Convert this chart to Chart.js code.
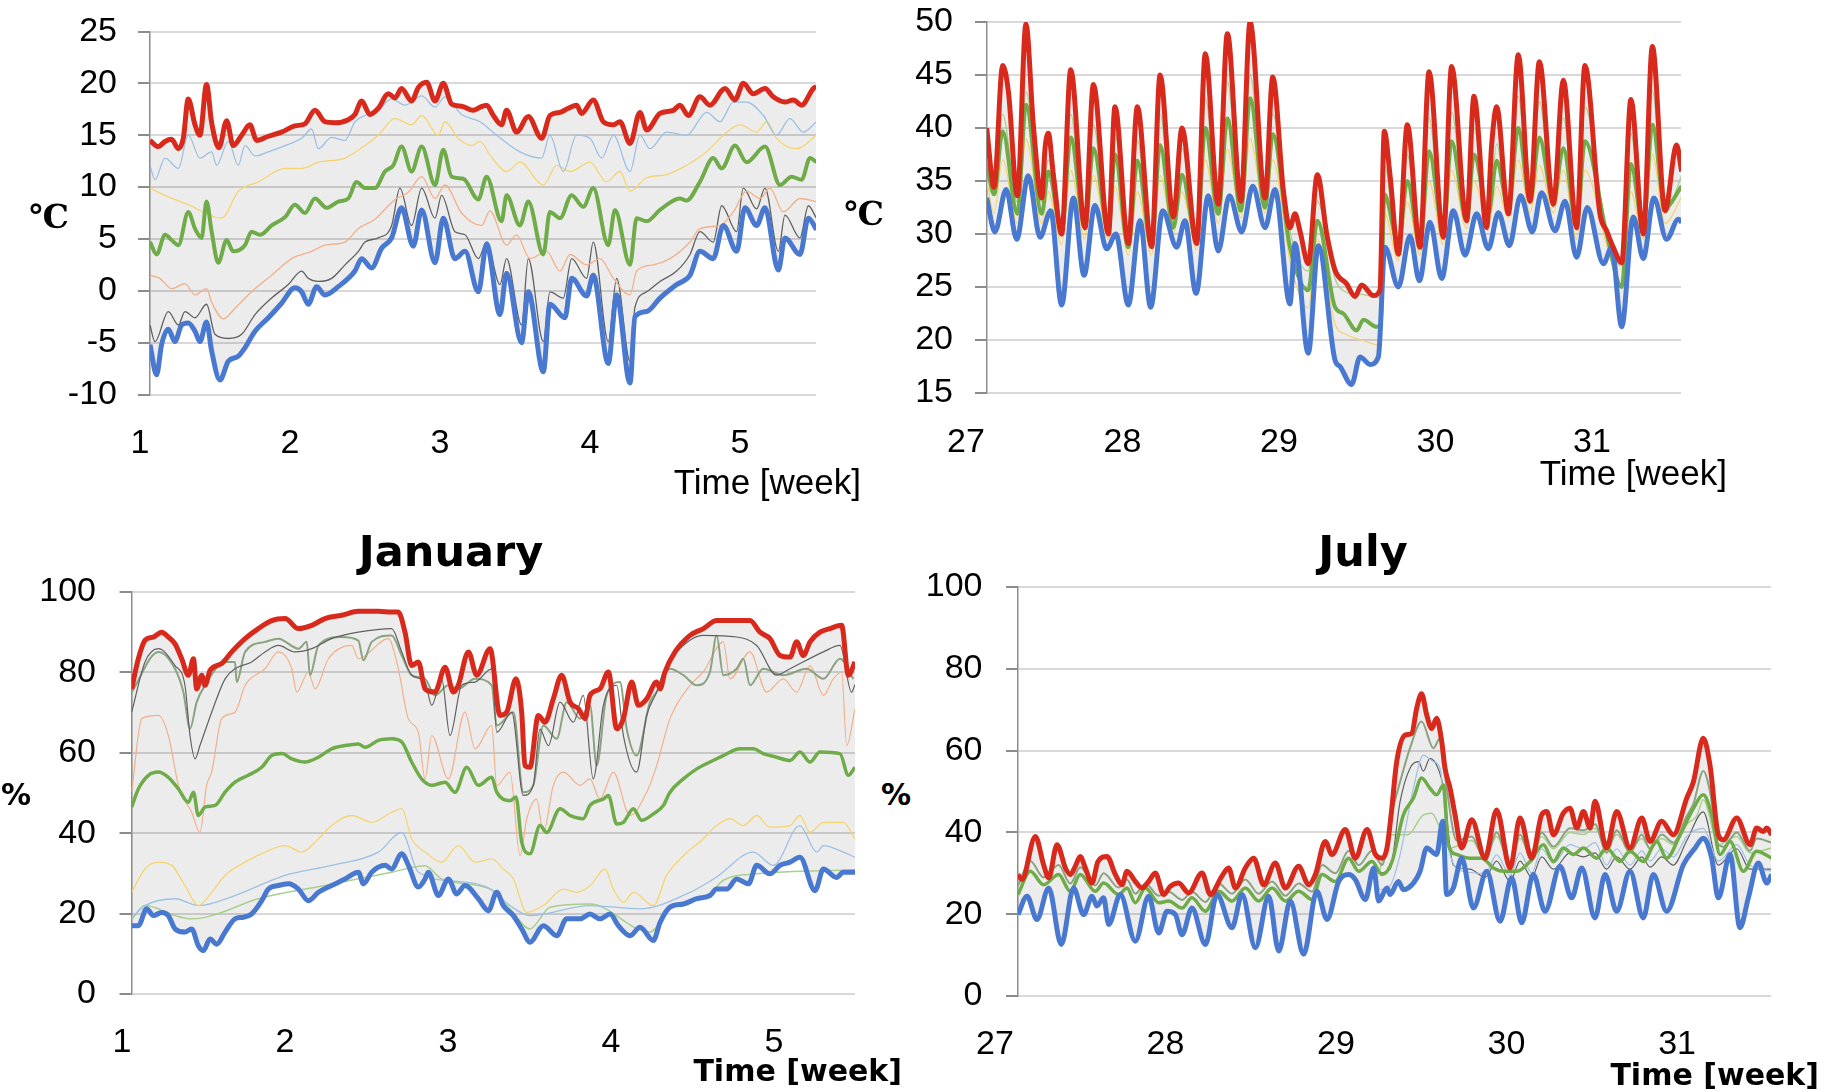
<!DOCTYPE html>
<html>
<head>
<meta charset="utf-8">
<script src="https://cdn.jsdelivr.net/npm/chart.js@4.4.1/dist/chart.umd.min.js"></script>
<style>
  body { margin: 0; background: #fff; width: 1824px; height: 1092px; position: relative; overflow: hidden; }
  canvas { position: absolute; }
  .txt { position: absolute; white-space: nowrap; color: #000; line-height: 1; font-family: 'DejaVu Sans', sans-serif; }
  .c { transform: translate(-50%, -50%); }
  .r { transform: translateY(-50%); }
  .unit { font: bold 33px 'DejaVu Serif', serif; }
  .pct { font-weight: bold; font-size: 30px; }
  .time { font-family: 'Liberation Sans', Arial, sans-serif; font-size: 35px; }
  .timeB { font-size: 30px; font-weight: bold; }
  .title { font-size: 43px; font-weight: bold; }
</style>
</head>
<body>
<canvas id="janTemp" width="850" height="480" style="left:0;top:0"></canvas>
<canvas id="julTemp" width="830" height="480" style="left:880px;top:0"></canvas>
<canvas id="janRh" width="880" height="532" style="left:0;top:560px"></canvas>
<canvas id="julRh" width="900" height="532" style="left:912px;top:560px"></canvas>

<div class="txt unit c" style="left:49px;top:216px">℃</div>
<div class="txt unit c" style="left:864px;top:213px">℃</div>
<div class="txt time r" style="right:963px;top:481px">Time [week]</div>
<div class="txt time r" style="right:97px;top:472px">Time [week]</div>

<div class="txt title c" style="left:451px;top:551px">January</div>
<div class="txt title c" style="left:1363px;top:551px">July</div>
<div class="txt pct c" style="left:16px;top:795px">%</div>
<div class="txt pct c" style="left:896px;top:795px">%</div>
<div class="txt timeB r" style="right:922px;top:1071px">Time [week]</div>
<div class="txt timeB r" style="right:5px;top:1075px">Time [week]</div>

<script>
// tick values
const janWeeks = [1, 2, 3, 4, 5];
const julWeeks = [27, 28, 29, 30, 31];
const janTempTicks = [-10, -5, 0, 5, 10, 15, 20, 25];
const julTempTicks = [15, 20, 25, 30, 35, 40, 45, 50];
const rhTicks = [0, 20, 40, 60, 80, 100];

// ---- January temperature [week, degC] ----
const janTempMax = [[1.067,14.5],[1.122,13.9],[1.167,14.4],[1.211,14.6],[1.256,13.7],[1.289,14.7],[1.322,18.5],[1.367,16.0],[1.400,15.0],[1.444,19.9],[1.478,16.2],[1.527,13.8],[1.578,16.4],[1.622,14.0],[1.678,15.0],[1.733,16.0],[1.778,14.5],[1.856,14.9],[1.944,15.3],[2.033,15.9],[2.100,16.1],[2.167,17.4],[2.233,16.3],[2.300,16.2],[2.389,16.5],[2.433,17.0],[2.478,18.3],[2.533,17.0],[2.589,17.6],[2.656,19.0],[2.700,18.6],[2.744,19.5],[2.811,18.3],[2.856,19.6],[2.911,20.1],[2.967,18.3],[3.022,20.0],[3.078,18.0],[3.144,17.8],[3.222,17.4],[3.267,17.7],[3.311,17.9],[3.356,16.9],[3.411,16.0],[3.444,17.4],[3.511,15.3],[3.589,16.8],[3.678,14.7],[3.733,16.9],[3.800,17.2],[3.856,17.6],[3.911,17.9],[3.944,17.1],[4.022,18.4],[4.089,16.3],[4.156,16.0],[4.200,16.3],[4.267,14.2],[4.333,17.2],[4.378,15.5],[4.467,17.1],[4.556,17.4],[4.600,17.9],[4.656,16.9],[4.733,18.7],[4.800,17.9],[4.900,19.5],[4.967,18.4],[5.022,20.0],[5.089,19.0],[5.167,19.5],[5.222,18.7],[5.300,18.2],[5.356,18.4],[5.411,17.9],[5.489,19.5],[5.510,19.7]];
const janTempMin = [[1.067,-5.2],[1.111,-8.1],[1.144,-5.2],[1.189,-3.7],[1.233,-4.9],[1.278,-3.3],[1.322,-3.1],[1.367,-3.9],[1.400,-4.9],[1.444,-3.0],[1.478,-5.8],[1.533,-8.6],[1.589,-6.8],[1.656,-6.3],[1.700,-5.5],[1.767,-3.9],[1.856,-2.6],[1.944,-1.2],[2.033,0.3],[2.078,-0.1],[2.122,-1.3],[2.178,0.4],[2.233,-0.4],[2.322,0.4],[2.433,1.9],[2.478,3.1],[2.544,2.2],[2.611,4.1],[2.678,5.1],[2.744,8.0],[2.822,4.3],[2.878,7.8],[2.967,2.7],[3.022,7.0],[3.100,3.1],[3.167,3.8],[3.256,-0.1],[3.311,4.5],[3.400,-2.3],[3.444,1.7],[3.544,-5.0],[3.589,-0.1],[3.689,-7.8],[3.733,-1.3],[3.833,-2.6],[3.878,1.2],[3.978,-0.5],[4.022,1.5],[4.122,-7.0],[4.178,-0.4],[4.267,-8.9],[4.300,-2.5],[4.378,-2.0],[4.467,-0.7],[4.578,0.6],[4.667,1.5],[4.733,3.8],[4.822,3.1],[4.889,6.3],[4.978,3.8],[5.033,8.0],[5.111,6.3],[5.167,8.0],[5.256,2.0],[5.300,5.1],[5.400,3.5],[5.456,7.0],[5.510,5.9]];
const janTempMid = [[1.067,4.7],[1.111,3.5],[1.167,5.4],[1.211,4.9],[1.256,4.4],[1.322,7.6],[1.367,6.0],[1.411,5.1],[1.444,8.6],[1.478,5.7],[1.522,2.7],[1.578,4.9],[1.622,3.8],[1.700,4.4],[1.744,5.7],[1.800,5.4],[1.878,6.3],[1.967,7.1],[2.033,8.3],[2.100,7.5],[2.167,8.9],[2.244,8.0],[2.322,8.6],[2.389,8.9],[2.444,10.5],[2.500,9.9],[2.567,9.9],[2.633,11.5],[2.689,12.1],[2.744,13.9],[2.811,11.5],[2.878,13.9],[2.967,10.2],[3.022,13.6],[3.078,11.0],[3.156,10.8],[3.256,8.8],[3.311,11.0],[3.411,6.7],[3.444,9.2],[3.533,6.3],[3.589,8.6],[3.689,3.5],[3.733,7.6],[3.800,7.0],[3.878,9.2],[3.956,8.1],[4.022,9.9],[4.122,4.4],[4.167,7.8],[4.267,2.5],[4.311,7.0],[4.378,6.7],[4.467,7.8],[4.600,8.9],[4.644,8.7],[4.733,10.5],[4.822,12.8],[4.878,11.8],[4.967,14.0],[5.044,12.4],[5.167,13.9],[5.267,10.2],[5.344,11.0],[5.411,10.7],[5.467,12.8],[5.510,12.4]];
const janTempLightBlue = [[1.067,12.1],[1.100,10.7],[1.167,12.8],[1.256,11.8],[1.322,15.0],[1.400,12.8],[1.478,13.4],[1.511,12.1],[1.589,14.4],[1.656,12.1],[1.700,14.0],[1.767,13.0],[1.856,13.4],[1.967,14.0],[2.078,14.7],[2.144,15.6],[2.189,13.7],[2.278,14.8],[2.367,14.5],[2.433,16.3],[2.500,16.9],[2.589,17.4],[2.678,18.5],[2.767,17.9],[2.878,18.8],[2.967,17.7],[3.033,18.7],[3.144,17.0],[3.267,16.3],[3.378,15.0],[3.533,13.4],[3.678,12.8],[3.733,15.0],[3.822,11.5],[3.911,15.0],[4.000,14.7],[4.078,12.8],[4.156,15.0],[4.267,11.5],[4.333,15.0],[4.400,13.7],[4.511,15.3],[4.644,15.0],[4.778,17.2],[4.867,16.3],[4.956,18.2],[5.044,18.2],[5.156,16.9],[5.244,15.0],[5.333,16.6],[5.422,15.3],[5.510,16.3]];
const janTempYellow = [[1.067,9.9],[1.167,9.2],[1.322,8.3],[1.544,7.0],[1.656,9.6],[1.789,10.5],[1.967,11.8],[2.078,11.8],[2.189,12.4],[2.367,12.8],[2.500,14.0],[2.589,15.0],[2.700,16.6],[2.811,16.0],[2.878,16.9],[2.989,15.0],[3.033,16.3],[3.122,14.7],[3.211,14.0],[3.267,14.4],[3.333,13.1],[3.444,11.5],[3.533,12.4],[3.689,10.2],[3.778,12.1],[3.867,11.5],[4.000,12.4],[4.111,10.5],[4.200,11.5],[4.267,9.6],[4.378,10.9],[4.511,11.2],[4.644,12.1],[4.778,13.4],[4.889,15.0],[5.000,16.0],[5.111,15.3],[5.178,16.3],[5.244,14.7],[5.378,13.7],[5.510,15.0]];
const janTempOrange = [[1.067,1.5],[1.133,1.2],[1.211,0.2],[1.300,0.7],[1.367,-0.4],[1.444,0.2],[1.478,-1.1],[1.556,-2.7],[1.633,-1.7],[1.744,-0.1],[1.878,1.5],[2.011,3.1],[2.144,3.8],[2.233,4.4],[2.367,4.7],[2.456,6.0],[2.567,6.9],[2.656,8.2],[2.700,8.8],[2.789,9.5],[2.878,11.0],[2.967,8.9],[3.033,10.2],[3.144,7.5],[3.278,6.3],[3.333,7.7],[3.444,4.4],[3.511,5.4],[3.600,3.1],[3.711,3.8],[3.800,1.9],[3.867,3.5],[3.978,2.5],[4.067,3.1],[4.156,1.2],[4.267,-0.4],[4.311,1.9],[4.422,2.5],[4.533,3.1],[4.667,4.7],[4.733,6.0],[4.867,6.3],[4.956,7.6],[5.044,9.6],[5.133,8.9],[5.200,9.9],[5.289,7.6],[5.400,8.9],[5.510,8.6]];
const janTempGray = [[1.067,-3.3],[1.100,-4.9],[1.189,-2.0],[1.256,-3.3],[1.300,-2.0],[1.367,-2.6],[1.444,-1.3],[1.500,-4.2],[1.589,-4.6],[1.678,-4.2],[1.767,-2.3],[1.878,-0.7],[1.989,0.6],[2.078,1.9],[2.122,1.2],[2.189,0.9],[2.278,1.2],[2.367,2.5],[2.456,3.8],[2.500,4.7],[2.589,5.1],[2.678,6.3],[2.733,9.9],[2.811,6.3],[2.878,9.9],[2.967,7.0],[3.011,9.2],[3.100,5.7],[3.167,5.4],[3.256,3.1],[3.311,4.7],[3.400,0.6],[3.444,3.1],[3.544,-3.3],[3.589,3.1],[3.689,-4.9],[3.733,-0.1],[3.822,-0.7],[3.878,3.1],[3.978,1.2],[4.022,4.7],[4.122,-4.9],[4.178,1.2],[4.267,-6.8],[4.300,-1.6],[4.378,-0.1],[4.467,0.9],[4.578,1.9],[4.667,3.5],[4.733,5.7],[4.822,4.7],[4.878,8.2],[4.978,5.7],[5.022,9.9],[5.111,7.9],[5.167,9.9],[5.256,3.8],[5.300,7.3],[5.400,5.1],[5.456,8.2],[5.510,7.0]];

// ---- July temperature [week, degC] ----
const julTempMax = [[27.132,40.0],[27.179,34.4],[27.234,45.9],[27.271,43.4],[27.328,33.6],[27.383,49.8],[27.430,40.3],[27.484,33.4],[27.505,38.1],[27.526,39.5],[27.558,35.6],[27.611,30.0],[27.669,45.5],[27.760,30.6],[27.814,44.1],[27.910,30.0],[27.952,42.0],[28.037,29.1],[28.095,42.0],[28.186,28.8],[28.240,45.0],[28.325,31.6],[28.380,40.0],[28.474,29.1],[28.529,47.0],[28.612,32.8],[28.670,48.9],[28.757,33.1],[28.815,50.0],[28.911,33.4],[28.960,44.8],[29.028,34.1],[29.070,30.6],[29.102,31.9],[29.134,30.3],[29.187,27.2],[29.245,35.6],[29.305,30.0],[29.358,26.6],[29.432,25.3],[29.486,24.1],[29.528,25.2],[29.603,24.2],[29.645,24.7],[29.673,39.7],[29.709,35.6],[29.763,28.1],[29.820,40.3],[29.901,28.75],[29.959,45.3],[30.050,29.7],[30.103,45.8],[30.199,31.25],[30.246,43.0],[30.327,30.6],[30.359,38.4],[30.391,42.0],[30.466,31.9],[30.529,46.9],[30.604,33.1],[30.664,46.25],[30.753,32.8],[30.817,44.5],[30.902,30.6],[30.955,45.9],[31.051,31.9],[31.094,30.3],[31.136,28.75],[31.190,27.3],[31.249,42.7],[31.328,30.0],[31.386,47.7],[31.467,32.2],[31.541,38.4],[31.573,35.9]];
const julTempMin = [[27.132,33.4],[27.185,30.2],[27.256,34.2],[27.324,29.5],[27.398,35.5],[27.473,29.7],[27.541,32.2],[27.611,23.3],[27.686,33.4],[27.754,26.1],[27.824,32.7],[27.899,28.6],[27.958,30.0],[28.037,23.3],[28.112,31.25],[28.180,23.1],[28.257,32.2],[28.346,28.75],[28.399,31.25],[28.470,24.4],[28.548,33.6],[28.612,28.4],[28.683,33.6],[28.762,30.2],[28.832,34.5],[28.911,30.6],[28.974,34.2],[29.070,23.4],[29.102,29.1],[29.187,18.75],[29.251,28.9],[29.358,18.1],[29.390,17.5],[29.464,15.8],[29.518,18.4],[29.582,17.7],[29.635,18.4],[29.677,28.75],[29.763,25.0],[29.837,29.8],[29.897,25.6],[29.965,31.1],[30.040,25.8],[30.114,32.2],[30.189,28.0],[30.263,31.9],[30.338,28.6],[30.402,32.0],[30.472,28.9],[30.544,33.6],[30.619,30.2],[30.678,33.9],[30.764,30.3],[30.828,33.1],[30.902,27.8],[30.970,32.5],[31.073,27.2],[31.126,28.75],[31.190,21.25],[31.264,31.6],[31.328,27.7],[31.396,33.4],[31.477,29.5],[31.552,31.4],[31.573,31.1]];
const julTempMid = [[27.132,36.6],[27.179,33.75],[27.234,39.7],[27.328,31.9],[27.383,42.2],[27.484,31.9],[27.526,35.9],[27.611,30.3],[27.669,39.1],[27.760,30.6],[27.814,38.1],[27.910,30.3],[27.952,37.5],[28.037,28.75],[28.095,36.9],[28.186,28.75],[28.240,38.4],[28.325,30.6],[28.380,35.6],[28.474,29.4],[28.529,40.0],[28.612,31.9],[28.670,40.9],[28.757,32.2],[28.815,42.8],[28.911,32.5],[28.960,39.4],[29.070,28.75],[29.187,24.7],[29.245,31.25],[29.358,23.1],[29.411,22.5],[29.496,20.9],[29.539,21.9],[29.624,21.25],[29.650,21.5],[29.673,33.75],[29.763,29.1],[29.820,35.0],[29.901,29.1],[29.959,37.8],[30.050,30.3],[30.103,38.75],[30.199,31.25],[30.246,37.5],[30.338,31.9],[30.391,36.9],[30.466,32.5],[30.529,40.0],[30.604,33.1],[30.664,39.1],[30.753,33.1],[30.817,38.1],[30.902,30.9],[30.955,38.75],[31.094,30.0],[31.190,25.0],[31.249,36.6],[31.328,30.6],[31.386,40.3],[31.467,32.5],[31.573,34.5]];
const julTempLightGreen = [[27.132,38],[27.179,34],[27.234,41.3],[27.328,33],[27.383,43.4],[27.484,33],[27.526,37],[27.611,29.8],[27.669,41.3],[27.760,30.3],[27.814,40.3],[27.910,29.8],[27.952,39.4],[28.037,29],[28.095,38.8],[28.186,28.7],[28.240,41.3],[28.325,31.3],[28.380,38.1],[28.474,29],[28.529,42.8],[28.612,32.5],[28.670,44.4],[28.757,32.8],[28.815,45],[28.911,33],[28.960,41.3],[29.070,30.3],[29.187,26.5],[29.245,33.1],[29.358,25.8],[29.432,24.5],[29.528,24.3],[29.645,24.0],[29.673,36.5],[29.763,28],[29.820,37.5],[29.901,28.6],[29.959,41],[30.050,29.5],[30.103,41.5],[30.199,31],[30.246,40],[30.338,31.5],[30.391,38.5],[30.466,31.7],[30.529,43],[30.604,32.8],[30.664,42.5],[30.753,32.5],[30.817,41],[30.902,30.5],[30.955,42],[31.094,30],[31.190,27],[31.249,39.5],[31.328,29.8],[31.386,43.5],[31.467,32],[31.573,35.5]];
const julTempYellow = [[27.132,35],[27.179,32],[27.234,37],[27.328,31],[27.383,39],[27.484,31],[27.526,34],[27.611,29],[27.669,36],[27.760,29.5],[27.814,35.5],[27.910,29.5],[27.952,34.5],[28.037,28],[28.095,34],[28.186,28],[28.240,35.5],[28.325,30],[28.380,34],[28.474,28.5],[28.529,37],[28.612,31],[28.670,38],[28.757,31.5],[28.815,39],[28.911,32],[28.960,37],[29.070,27.5],[29.187,23],[29.245,29.5],[29.358,21.5],[29.432,20.5],[29.528,20],[29.645,19.5],[29.673,32],[29.763,27.5],[29.820,33],[29.901,28],[29.959,35],[30.050,29],[30.103,36],[30.199,30.5],[30.246,35],[30.338,31],[30.391,34.5],[30.466,31.5],[30.529,37],[30.604,32],[30.664,36.5],[30.753,32],[30.817,36],[30.902,29.5],[30.955,36],[31.094,29],[31.190,25],[31.249,34],[31.328,29.5],[31.386,37.5],[31.467,31],[31.573,33.5]];

// ---- January relative humidity [week, %] ----
const janRhMax = [[1.059,75.9],[1.100,83.4],[1.141,88.0],[1.192,88.8],[1.243,90.0],[1.284,88.8],[1.325,87.1],[1.366,83.4],[1.407,79.3],[1.438,83.4],[1.458,75.9],[1.489,79.3],[1.509,76.8],[1.540,80.5],[1.611,82.2],[1.673,85.1],[1.755,88.4],[1.836,90.9],[1.918,92.9],[2.000,93.4],[2.082,90.9],[2.164,91.7],[2.245,93.4],[2.348,94.2],[2.450,95.2],[2.573,95.2],[2.654,95.0],[2.695,95.0],[2.736,90.0],[2.777,81.7],[2.818,82.6],[2.859,75.9],[2.920,75.1],[2.982,81.3],[3.033,75.1],[3.063,76.8],[3.125,85.1],[3.176,79.3],[3.258,85.9],[3.319,69.3],[3.360,70.1],[3.417,78.4],[3.452,70.1],[3.472,56.8],[3.503,56.4],[3.554,69.3],[3.595,67.6],[3.646,73.4],[3.697,79.3],[3.749,72.6],[3.800,71.0],[3.841,68.5],[3.871,74.3],[3.932,75.9],[3.984,80.1],[4.035,66.0],[4.076,68.5],[4.127,77.6],[4.168,71.8],[4.219,73.4],[4.280,77.6],[4.301,75.9],[4.331,80.1],[4.393,85.1],[4.485,89.2],[4.567,90.9],[4.648,92.9],[4.730,92.9],[4.853,92.9],[4.914,90.0],[4.975,88.4],[5.037,84.2],[5.098,83.8],[5.139,87.6],[5.180,84.2],[5.221,87.6],[5.282,90.0],[5.344,90.9],[5.415,91.7],[5.456,79.3],[5.497,82.6]];
const janRhMin = [[1.059,17.0],[1.100,17.0],[1.151,21.2],[1.192,19.5],[1.243,20.3],[1.284,19.5],[1.325,16.2],[1.386,15.4],[1.427,16.2],[1.468,12.0],[1.499,10.8],[1.540,13.7],[1.581,12.4],[1.632,15.4],[1.693,18.7],[1.744,19.1],[1.795,19.9],[1.857,23.2],[1.898,26.1],[1.959,27.0],[2.021,27.4],[2.082,26.1],[2.143,23.2],[2.205,25.3],[2.286,27.0],[2.368,28.6],[2.450,30.3],[2.481,27.4],[2.532,30.3],[2.613,32.0],[2.654,31.1],[2.716,34.9],[2.757,32.0],[2.818,26.6],[2.859,28.6],[2.879,30.3],[2.941,24.5],[3.002,28.6],[3.053,24.9],[3.104,27.0],[3.186,23.7],[3.248,20.7],[3.299,25.3],[3.339,22.0],[3.401,19.5],[3.452,16.2],[3.503,12.9],[3.585,17.0],[3.667,14.5],[3.728,18.7],[3.810,18.7],[3.871,19.9],[3.932,18.7],[3.994,19.9],[4.045,17.0],[4.117,14.5],[4.178,16.6],[4.260,13.3],[4.301,17.8],[4.362,21.6],[4.444,22.4],[4.526,23.7],[4.607,24.5],[4.648,26.1],[4.710,26.1],[4.771,28.6],[4.843,27.4],[4.894,32.0],[4.975,29.9],[5.037,32.0],[5.098,32.8],[5.159,34.0],[5.252,25.7],[5.303,31.1],[5.384,29.0],[5.425,30.3],[5.497,30.3]];
const janRhMid = [[1.059,46.5],[1.100,51.0],[1.162,54.4],[1.223,55.2],[1.284,53.9],[1.346,51.0],[1.407,47.7],[1.438,50.2],[1.468,44.4],[1.509,46.5],[1.571,46.9],[1.632,50.2],[1.693,52.7],[1.775,54.4],[1.857,56.4],[1.918,59.3],[1.980,59.8],[2.041,58.5],[2.123,57.7],[2.205,58.9],[2.286,61.0],[2.368,61.8],[2.450,62.2],[2.491,61.4],[2.573,63.1],[2.654,63.5],[2.716,62.7],[2.777,57.7],[2.838,53.5],[2.900,51.9],[2.982,52.7],[3.043,50.2],[3.115,56.4],[3.186,51.9],[3.268,53.9],[3.299,50.2],[3.380,48.1],[3.417,49.0],[3.452,37.8],[3.503,34.9],[3.564,41.9],[3.605,40.2],[3.687,46.1],[3.749,44.4],[3.830,43.6],[3.871,46.9],[3.953,48.5],[3.984,49.4],[4.035,42.3],[4.076,42.7],[4.137,46.1],[4.188,43.2],[4.260,44.8],[4.321,46.9],[4.362,50.2],[4.444,53.5],[4.526,56.0],[4.607,57.7],[4.689,59.3],[4.791,61.0],[4.873,61.0],[4.934,59.8],[5.016,58.9],[5.098,58.1],[5.159,60.2],[5.221,57.7],[5.282,60.2],[5.405,59.8],[5.456,54.4],[5.497,56.4]];
const janRhGray = [[1.059,70.1],[1.141,82.6],[1.223,85.9],[1.325,81.7],[1.386,76.8],[1.417,64.3],[1.448,58.5],[1.478,61.8],[1.550,70.1],[1.632,78.4],[1.693,80.9],[1.795,82.6],[1.877,85.1],[1.959,86.7],[2.061,85.1],[2.164,85.9],[2.286,88.4],[2.450,90.0],[2.654,90.9],[2.716,85.1],[2.777,79.3],[2.859,77.6],[2.900,71.8],[2.961,78.4],[3.012,64.3],[3.084,76.8],[3.166,77.6],[3.268,80.9],[3.299,65.1],[3.391,70.1],[3.462,49.4],[3.523,51.9],[3.564,65.9],[3.616,61.8],[3.687,72.6],[3.769,67.6],[3.830,74.3],[3.891,53.5],[3.953,71.8],[4.035,76.8],[4.076,64.3],[4.157,55.2],[4.219,69.3],[4.280,75.1],[4.321,80.1],[4.403,85.1],[4.566,89.2],[4.771,88.8],[4.894,86.7],[5.016,79.3],[5.098,80.9],[5.303,85.1],[5.405,86.7],[5.476,75.1],[5.497,77.0]];
const janRhGrayGreen = [[1.059,75.1],[1.223,85.1],[1.325,80.9],[1.376,75.1],[1.417,66.0],[1.458,72.6],[1.509,76.8],[1.632,82.6],[1.693,82.6],[1.703,77.6],[1.755,85.1],[1.877,87.6],[1.959,88.4],[2.082,85.9],[2.133,87.6],[2.153,79.3],[2.205,86.7],[2.348,88.8],[2.450,87.9],[2.481,83.0],[2.532,87.6],[2.654,89.2],[2.716,84.2],[2.777,79.3],[2.859,78.4],[2.920,74.3],[3.002,76.8],[3.063,75.9],[3.166,78.4],[3.268,76.8],[3.299,66.8],[3.401,70.1],[3.462,50.2],[3.523,51.9],[3.585,66.8],[3.667,63.5],[3.728,72.6],[3.810,68.5],[3.871,71.8],[3.912,56.8],[3.973,74.3],[4.055,77.6],[4.096,66.0],[4.157,59.3],[4.239,72.6],[4.280,75.1],[4.362,80.9],[4.444,79.3],[4.526,76.8],[4.607,80.1],[4.648,89.2],[4.689,79.3],[4.771,80.9],[4.812,83.4],[4.853,76.8],[4.934,80.9],[5.057,79.3],[5.200,80.9],[5.303,78.4],[5.405,83.4],[5.487,78.4]];
const janRhOrange = [[1.059,50.2],[1.121,68.5],[1.223,69.3],[1.284,64.3],[1.346,51.9],[1.427,45.2],[1.478,40.2],[1.519,51.9],[1.550,55.2],[1.611,68.5],[1.693,70.1],[1.755,76.8],[1.877,80.9],[1.959,85.1],[2.041,80.9],[2.072,75.1],[2.143,80.1],[2.184,75.9],[2.266,83.4],[2.409,86.7],[2.450,83.4],[2.634,88.4],[2.695,80.9],[2.756,68.5],[2.818,65.1],[2.859,53.5],[2.900,64.3],[3.002,53.5],[3.104,70.1],[3.166,61.0],[3.268,66.8],[3.299,51.9],[3.380,55.2],[3.442,34.4],[3.483,43.6],[3.544,48.5],[3.585,40.2],[3.646,51.9],[3.708,55.2],[3.810,51.9],[3.871,53.5],[3.932,48.5],[4.014,55.2],[4.116,44.4],[4.219,50.2],[4.280,56.8],[4.362,68.5],[4.485,76.8],[4.566,80.1],[4.689,87.6],[4.730,78.4],[4.853,85.1],[4.955,75.1],[5.057,78.4],[5.139,75.1],[5.221,81.7],[5.303,74.3],[5.364,78.4],[5.415,80.1],[5.446,61.8],[5.497,70.9]];
const janRhYellow = [[1.059,25.3],[1.141,31.1],[1.223,32.8],[1.305,32.0],[1.386,27.0],[1.468,22.0],[1.550,25.3],[1.632,29.5],[1.755,32.8],[1.877,35.3],[2.000,36.9],[2.102,35.3],[2.205,38.6],[2.286,41.9],[2.409,44.4],[2.532,42.7],[2.654,45.2],[2.716,46.1],[2.777,38.6],[2.859,35.3],[2.961,32.8],[3.063,36.9],[3.166,32.8],[3.268,33.6],[3.339,31.1],[3.401,28.6],[3.483,20.3],[3.585,22.0],[3.708,26.1],[3.789,25.3],[3.871,26.9],[3.963,31.1],[4.014,26.1],[4.076,22.8],[4.137,25.3],[4.260,22.0],[4.341,29.5],[4.444,34.4],[4.566,38.6],[4.648,41.9],[4.730,43.6],[4.812,41.9],[4.894,44.4],[4.975,41.5],[5.098,41.9],[5.159,44.4],[5.221,40.2],[5.303,42.7],[5.425,42.7],[5.497,38.6]];
const janRhLightBlue = [[1.059,19.0],[1.141,22.0],[1.325,23.7],[1.468,22.0],[1.693,24.5],[2.000,29.5],[2.286,32.0],[2.573,35.3],[2.716,40.2],[2.818,30.3],[3.063,28.0],[3.268,26.0],[3.380,22.0],[3.503,19.5],[3.871,22.0],[4.178,21.2],[4.485,25.3],[4.648,29.1],[4.873,35.3],[4.996,32.0],[5.159,41.9],[5.262,35.3],[5.303,36.9],[5.425,35.3],[5.497,34.0]];
const janRhLightGreen = [[1.059,18.5],[1.141,22.0],[1.325,19.5],[1.427,18.7],[1.550,19.5],[1.836,23.7],[2.245,27.0],[2.654,30.3],[2.859,31.9],[2.961,28.6],[3.258,26.1],[3.380,21.2],[3.503,16.2],[3.626,21.6],[3.871,22.4],[4.239,15.4],[4.362,21.2],[4.607,24.9],[4.689,28.3],[4.894,29.9],[5.497,30.9]];

// ---- July relative humidity [week, %] ----
const julRhMax = [[27.135,29.7],[27.158,28.5],[27.237,39.0],[27.285,32.1],[27.315,28.9],[27.364,37.0],[27.413,31.3],[27.442,29.7],[27.471,31.7],[27.500,34.1],[27.530,31.3],[27.569,27.6],[27.604,32.9],[27.657,34.1],[27.706,29.7],[27.745,27.2],[27.774,30.5],[27.823,28.0],[27.862,26.4],[27.901,28.0],[27.940,30.1],[27.989,24.8],[28.028,26.8],[28.077,27.6],[28.136,25.2],[28.214,30.1],[28.263,24.8],[28.331,29.3],[28.370,31.3],[28.410,26.4],[28.468,31.3],[28.517,33.7],[28.576,27.2],[28.644,32.5],[28.703,26.4],[28.781,31.7],[28.840,27.2],[28.879,29.7],[28.937,37.8],[28.976,34.6],[29.055,40.7],[29.113,33.7],[29.182,40.7],[29.231,34.6],[29.270,33.7],[29.299,36.2],[29.325,45.0],[29.356,57.3],[29.405,63.8],[29.444,64.2],[29.473,70.3],[29.502,73.9],[29.532,68.7],[29.561,65.4],[29.590,67.9],[29.620,62.2],[29.639,55.7],[29.669,50.8],[29.698,44.3],[29.737,36.2],[29.796,43.1],[29.874,33.7],[29.942,45.5],[30.021,31.3],[30.079,43.5],[30.148,33.7],[30.206,44.3],[30.236,45.1],[30.275,39.4],[30.333,44.7],[30.372,45.9],[30.412,41.1],[30.451,45.1],[30.490,41.1],[30.519,47.6],[30.587,36.2],[30.646,45.1],[30.724,36.2],[30.793,43.5],[30.842,37.8],[30.910,42.7],[30.978,39.4],[31.057,48.4],[31.096,52.4],[31.154,63.0],[31.193,56.5],[31.242,39.4],[31.272,38.2],[31.350,43.5],[31.428,37.0],[31.467,41.1],[31.506,40.2],[31.526,41.1],[31.555,39.4]];
const julRhMin = [[27.135,19.9],[27.188,24.4],[27.246,18.7],[27.315,26.4],[27.389,12.6],[27.461,26.4],[27.520,19.9],[27.569,24.4],[27.598,22.0],[27.637,24.0],[27.667,17.5],[27.735,24.8],[27.823,13.4],[27.901,24.4],[27.960,15.4],[28.009,20.7],[28.058,19.9],[28.097,15.0],[28.155,21.5],[28.234,12.6],[28.302,24.8],[28.390,16.7],[28.449,24.8],[28.527,11.8],[28.605,24.4],[28.664,11.0],[28.732,23.2],[28.810,10.2],[28.888,25.6],[28.947,18.7],[29.016,28.0],[29.074,29.7],[29.113,28.5],[29.172,23.6],[29.221,31.3],[29.250,23.2],[29.299,26.4],[29.317,24.8],[29.366,28.0],[29.395,26.0],[29.454,27.6],[29.493,30.5],[29.532,36.2],[29.590,34.6],[29.626,42.7],[29.649,24.8],[29.688,26.4],[29.737,33.7],[29.806,21.5],[29.884,30.5],[29.962,18.3],[30.030,28.9],[30.089,17.9],[30.157,29.7],[30.226,20.7],[30.314,31.7],[30.382,24.0],[30.441,31.3],[30.519,19.1],[30.578,29.7],[30.646,20.7],[30.724,30.5],[30.802,19.1],[30.861,29.7],[30.939,20.7],[31.037,32.1],[31.106,36.2],[31.154,38.6],[31.203,33.7],[31.242,24.0],[31.311,34.6],[31.369,16.7],[31.418,24.0],[31.477,32.5],[31.526,27.6],[31.555,29.7]];
const julRhMid = [[27.135,24.8],[27.207,30.5],[27.285,27.2],[27.373,29.7],[27.442,25.6],[27.500,29.7],[27.588,25.6],[27.637,27.6],[27.725,24.8],[27.774,26.4],[27.823,22.8],[27.882,26.4],[27.960,22.8],[28.019,23.2],[28.097,21.5],[28.155,24.0],[28.234,20.7],[28.312,25.6],[28.390,23.2],[28.468,26.4],[28.546,23.2],[28.625,26.4],[28.703,23.2],[28.781,25.6],[28.860,23.6],[28.918,29.7],[28.996,28.0],[29.074,33.7],[29.133,30.5],[29.211,32.9],[29.270,29.7],[29.329,32.9],[29.395,44.3],[29.454,48.4],[29.502,53.3],[29.551,50.8],[29.590,49.2],[29.630,51.6],[29.659,37.0],[29.708,34.6],[29.786,33.7],[29.854,33.7],[29.923,31.3],[29.981,30.5],[30.060,30.5],[30.138,32.9],[30.216,37.0],[30.275,32.9],[30.333,36.2],[30.392,34.6],[30.451,36.2],[30.529,33.7],[30.587,36.2],[30.666,32.9],[30.724,35.4],[30.802,32.9],[30.881,37.8],[30.939,33.7],[31.018,39.4],[31.096,45.9],[31.154,49.2],[31.203,44.3],[31.252,34.6],[31.311,37.8],[31.389,30.5],[31.467,35.4],[31.555,33.7]];
const julRhGrayGreen = [[27.135,27.0],[27.207,33.0],[27.285,29.0],[27.373,32.0],[27.442,27.5],[27.500,31.5],[27.588,27.0],[27.637,30.0],[27.725,26.5],[27.774,28.5],[27.823,25.0],[27.882,27.5],[27.960,24.5],[28.019,25.5],[28.097,23.5],[28.155,25.5],[28.234,23.0],[28.312,27.5],[28.390,25.0],[28.468,28.5],[28.546,25.0],[28.625,28.0],[28.703,24.5],[28.781,27.5],[28.860,25.5],[28.918,32.0],[28.996,30.0],[29.074,35.5],[29.133,32.0],[29.211,35.5],[29.270,32.0],[29.329,45.0],[29.376,52.4],[29.434,60.6],[29.502,67.1],[29.571,60.6],[29.610,63.0],[29.649,50.8],[29.708,38.0],[29.796,39.0],[29.874,33.0],[29.942,40.0],[30.021,31.5],[30.079,39.5],[30.148,33.0],[30.206,40.0],[30.275,36.5],[30.372,41.0],[30.451,40.5],[30.519,42.0],[30.587,35.0],[30.646,40.5],[30.724,35.0],[30.793,39.5],[30.842,36.0],[30.910,39.5],[30.978,37.5],[31.057,44.0],[31.096,47.0],[31.154,55.0],[31.193,50.0],[31.242,37.0],[31.272,36.5],[31.350,40.0],[31.428,35.5],[31.467,38.5],[31.555,37.5]];
const julRhLightBlue = [[29.250,26.0],[29.317,27.0],[29.376,34.6],[29.454,50.8],[29.512,58.9],[29.571,57.3],[29.610,55.7],[29.659,36.2],[29.747,30.5],[29.874,30.0],[29.942,34.5],[30.021,29.5],[30.079,35.0],[30.148,30.0],[30.206,36.0],[30.275,32.5],[30.372,37.0],[30.451,36.0],[30.519,37.5],[30.587,32.0],[30.646,36.0],[30.724,32.0],[30.793,35.5],[30.842,33.0],[30.910,36.0],[30.978,34.0],[31.057,39.0],[31.154,41.0],[31.242,33.0],[31.350,37.0],[31.428,32.0],[31.555,30.5]];
const julRhGray = [[29.250,30.0],[29.317,31.0],[29.376,47.6],[29.434,55.7],[29.483,57.3],[29.512,55.0],[29.551,58.1],[29.600,55.5],[29.630,50.8],[29.688,32.0],[29.786,31.0],[29.874,29.0],[29.942,33.0],[30.021,28.0],[30.079,33.0],[30.148,29.0],[30.206,34.0],[30.275,31.0],[30.372,35.0],[30.451,34.0],[30.519,35.0],[30.587,31.0],[30.646,34.0],[30.724,31.0],[30.793,34.0],[30.842,31.5],[30.910,34.0],[30.978,32.0],[31.057,38.0],[31.154,45.0],[31.242,32.0],[31.350,36.0],[31.428,31.0],[31.555,31.0]];
const julRhLightGreen = [[29.250,30.0],[29.330,39.4],[29.420,39.4],[29.512,44.3],[29.561,44.7],[29.610,41.1],[29.669,36.2],[29.796,38.0],[29.874,33.5],[29.942,39.0],[30.021,32.0],[30.079,38.5],[30.148,34.0],[30.206,39.0],[30.275,36.0],[30.372,40.0],[30.451,39.5],[30.519,41.0],[30.587,35.5],[30.646,39.5],[30.724,35.5],[30.793,38.5],[30.842,36.0],[30.910,38.5],[30.978,37.0],[31.057,42.0],[31.115,44.0],[31.154,48.0],[31.242,37.0],[31.350,39.0],[31.428,35.0],[31.555,36.2]];

const RED = '#d82a1c', BLUE = '#4878cf', GREEN = '#6fab48';
const LIGHT_BLUE = '#9cc0e4', YELLOW = '#f5d470', ORANGE = '#f2b08a';
const DARK_GRAY = '#606060', GRAY_GREEN = '#8aa27f', LIGHT_GREEN = '#a8cf8e';
const BAND = 'rgba(0,0,0,0.075)';

Chart.defaults.font.family = "'Liberation Sans', Arial, sans-serif";
Chart.defaults.font.size = 34;
Chart.defaults.color = '#000';

function line(pts, color, width) {
  return {
    data: pts.map(([x, y]) => ({ x, y })),
    borderColor: color,
    backgroundColor: color,
    borderWidth: width,
    pointRadius: 0,
    fill: false,
    cubicInterpolationMode: 'monotone',
  };
}

// max line first so it sits on top; its fill runs down to the min line (index 1)
function band(maxPts, minPts, midPts, midWidth, thin) {
  return [
    Object.assign(line(maxPts, RED, 5), { fill: 1, backgroundColor: BAND }),
    line(minPts, BLUE, 5),
    line(midPts, GREEN, midWidth),
    ...thin,
  ];
}

function panel(id, g, xTicks, yTicks, datasets) {
  new Chart(document.getElementById(id), {
    type: 'line',
    data: { datasets },
    options: {
      responsive: false,
      animation: false,
      events: [],
      layout: { padding: g.pad },
      plugins: {
        legend: { display: false },
        tooltip: { enabled: false },
        filler: { drawTime: 'beforeDatasetsDraw' },
      },
      scales: {
        x: {
          type: 'linear',
          min: g.xMin,
          max: g.xMax,
          afterBuildTicks: s => { s.ticks = xTicks.map(v => ({ value: v })); },
          afterFit: s => { s.height = 70; s.paddingLeft = 0; s.paddingRight = 0; },
          grid: { display: false, drawTicks: false },
          border: { display: false },
          ticks: { padding: g.xPad, autoSkip: false, maxRotation: 0, callback: v => String(v) },
        },
        y: {
          min: yTicks[0],
          max: yTicks[yTicks.length - 1],
          afterBuildTicks: s => { s.ticks = yTicks.map(v => ({ value: v })); },
          // fixed box: keep the label overhang out of the layout
          afterFit: s => { s.width = g.yWidth; s.paddingTop = 0; s.paddingBottom = 0; },
          grid: { color: '#d9d9d9', lineWidth: 2, tickColor: '#8c8c8c', tickLength: 12 },
          border: { color: '#8c8c8c', width: 1.5 },
          ticks: { padding: g.yPad },
        },
      },
    },
  });
}

panel('janTemp',
  { pad: { top: 31.5, right: 34, bottom: 15.5, left: 0 }, yWidth: 150, yPad: 21, xPad: 29, xMin: 1.067, xMax: 5.507 },
  janWeeks, janTempTicks,
  band(janTempMax, janTempMin, janTempMid, 4, [
    line(janTempLightBlue, LIGHT_BLUE, 1.3),
    line(janTempYellow, YELLOW, 1.3),
    line(janTempOrange, ORANGE, 1.3),
    line(janTempGray, DARK_GRAY, 1.3),
  ]));

panel('julTemp',
  { pad: { top: 22, right: 29, bottom: 17, left: 0 }, yWidth: 107, yPad: 22, xPad: 29, xMin: 27.134, xMax: 31.569 },
  julWeeks, julTempTicks,
  band(julTempMax, julTempMin, julTempMid, 4, [
    line(julTempLightGreen, LIGHT_GREEN, 1.3),
    line(julTempYellow, YELLOW, 1.3),
  ]));

panel('janRh',
  { pad: { top: 32, right: 25, bottom: 28, left: 0 }, yWidth: 131.5, yPad: 23.5, xPad: 28, xMin: 1.058, xMax: 5.497 },
  janWeeks, rhTicks,
  band(janRhMax, janRhMin, janRhMid, 3.5, [
    line(janRhGray, DARK_GRAY, 1.2),
    line(janRhGrayGreen, GRAY_GREEN, 2),
    line(janRhOrange, ORANGE, 1.2),
    line(janRhYellow, YELLOW, 1.3),
    line(janRhLightBlue, LIGHT_BLUE, 1.3),
    line(janRhLightGreen, LIGHT_GREEN, 1.5),
  ]));

panel('julRh',
  { pad: { top: 27, right: 41, bottom: 26, left: 0 }, yWidth: 106, yPad: 23.5, xPad: 28, xMin: 27.135, xMax: 31.551 },
  julWeeks, rhTicks,
  band(julRhMax, julRhMin, julRhMid, 3.5, [
    line(julRhGrayGreen, GRAY_GREEN, 2),
    line(julRhLightBlue, LIGHT_BLUE, 1.2),
    line(julRhGray, DARK_GRAY, 1.2),
    line(julRhLightGreen, LIGHT_GREEN, 1.5),
  ]));
</script>
</body>
</html>
